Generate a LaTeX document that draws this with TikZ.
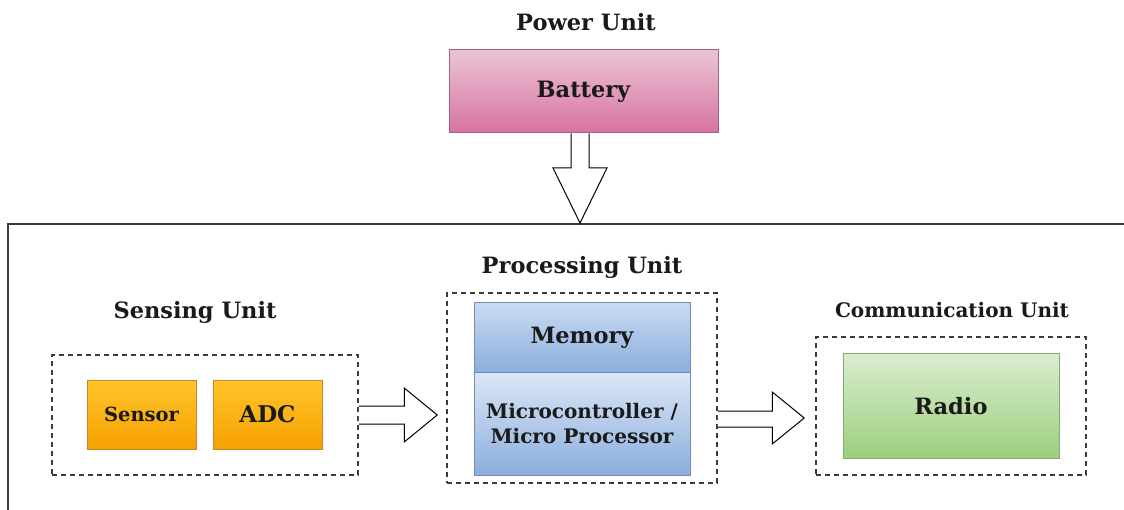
\documentclass[tikz,border=0pt]{standalone}
\usepackage{fontspec}
\setmainfont{DejaVu Serif}
\usepackage{xcolor}
\usetikzlibrary{arrows.meta,positioning,calc}
\definecolor{wsnink}{HTML}{1A1A1A}
\definecolor{wsnframe}{HTML}{3A3A3A}
\definecolor{pinktop}{HTML}{EBC3D6}
\definecolor{pinkbot}{HTML}{D7749F}
\definecolor{pinkline}{HTML}{A8607F}
\definecolor{ambertop}{HTML}{FFC52A}
\definecolor{amberbot}{HTML}{F5A000}
\definecolor{amberline}{HTML}{C08A2A}
\definecolor{bluetop}{HTML}{C9DBF2}
\definecolor{bluebot}{HTML}{8CAEDD}
\definecolor{paletop}{HTML}{DCE7F6}
\definecolor{blueline}{HTML}{6F8DB8}
\definecolor{greentop}{HTML}{D9EDCF}
\definecolor{greenbot}{HTML}{9CCF7E}
\definecolor{greenline}{HTML}{85A874}
\tikzset{
  unit/.style={font=\fontsize{22.5}{26}\selectfont\bfseries,text=wsnink,inner sep=0pt},
  part/.style={draw,line width=1pt,align=center,inner sep=0pt,font=\fontsize{22.5}{26}\selectfont\bfseries,text=wsnink},
  battbox/.style={part,draw=pinkline,top color=pinktop,bottom color=pinkbot},
  sensbox/.style={part,draw=amberline,top color=ambertop,bottom color=amberbot},
  membox/.style={part,draw=blueline,top color=bluetop,bottom color=bluebot},
  cpubox/.style={part,draw=blueline,top color=paletop,bottom color=bluebot},
  radiobox/.style={part,draw=greenline,top color=greentop,bottom color=greenbot},
  group/.style={draw=wsnframe,line width=1.5pt,dash pattern=on 5pt off 4pt,inner sep=0pt},
  hollow/.style={draw=black,line width=1pt,fill=white,line join=miter},
}

\begin{document}
\begin{tikzpicture}[x=1pt,y=-1pt]
  \useasboundingbox (0,0) rectangle (1124,510);

  % outer frame of the node
  \draw[wsnframe,line width=2pt] (8,510) -- (8,224) -- (1124,224);
  \coordinate (ptip) at (580,223);

  % power unit
  \node[unit] (powert) at (586,22) {Power Unit};
  \node[battbox,minimum width=269,minimum height=83] (batt) at (583.5,91.5) {Battery};

  % sensing unit
  \node[group,minimum width=306,minimum height=120] (sensg) at (205,415) {};
  \node[unit] (senst) at (195,312) {Sensing Unit};
  \node[sensbox,minimum width=109,minimum height=69,font=\fontsize{19.5}{24}\selectfont\bfseries] (sensor) at (141.5,414.5) {Sensor};
  \node[sensbox,minimum width=109,minimum height=69,font=\fontsize{23}{26}\selectfont\bfseries] (adc) at (267.5,414.5) {ADC};

  % processing unit
  \node[group,minimum width=270,minimum height=190] (procg) at (582,388) {};
  \node[unit] (proct) at (582,267) {Processing Unit};
  \node[membox,minimum width=216,minimum height=69] (mem) at (582,337.5) {Memory};
  \node[cpubox,minimum width=216,minimum height=103,font=\fontsize{20}{25}\selectfont\bfseries] (mcu) at (582,423.5) {Microcontroller /\\Micro Processor};

  % communication unit
  \node[group,minimum width=270,minimum height=138] (commg) at (951,406) {};
  \node[unit,font=\fontsize{20}{24}\selectfont\bfseries] (commt) at (952,310) {Communication Unit};
  \node[radiobox,minimum width=216,minimum height=104] (radio) at (951,406) {Radio};

  % block arrows
  \draw[hollow] ($(batt.south)+(-12.5,0)$) -- ($(ptip)+(-9,-55)$) -- ($(ptip)+(-27,-55)$)
    -- (ptip) -- ($(ptip)+(27,-55)$) -- ($(ptip)+(9,-55)$) -- ($(batt.south)+(5.5,0)$);
  \draw[hollow] ($(sensg.east)+(0,-9)$) -- ($(procg.west |- sensg.east)+(-42,-9)$)
    -- ($(procg.west |- sensg.east)+(-42,-27)$) -- ($(procg.west |- sensg.east)+(-9,0)$)
    -- ($(procg.west |- sensg.east)+(-42,27)$) -- ($(procg.west |- sensg.east)+(-42,9)$)
    -- ($(sensg.east)+(0,9)$);
  \draw[hollow] ($(procg.east)+(0,23)$) -- ($(commg.west |- procg.east)+(-43,23)$)
    -- ($(commg.west |- procg.east)+(-43,4)$) -- ($(commg.west |- procg.east)+(-11,30)$)
    -- ($(commg.west |- procg.east)+(-43,56)$) -- ($(commg.west |- procg.east)+(-43,39)$)
    -- ($(procg.east)+(0,39)$);
\end{tikzpicture}
\end{document}
